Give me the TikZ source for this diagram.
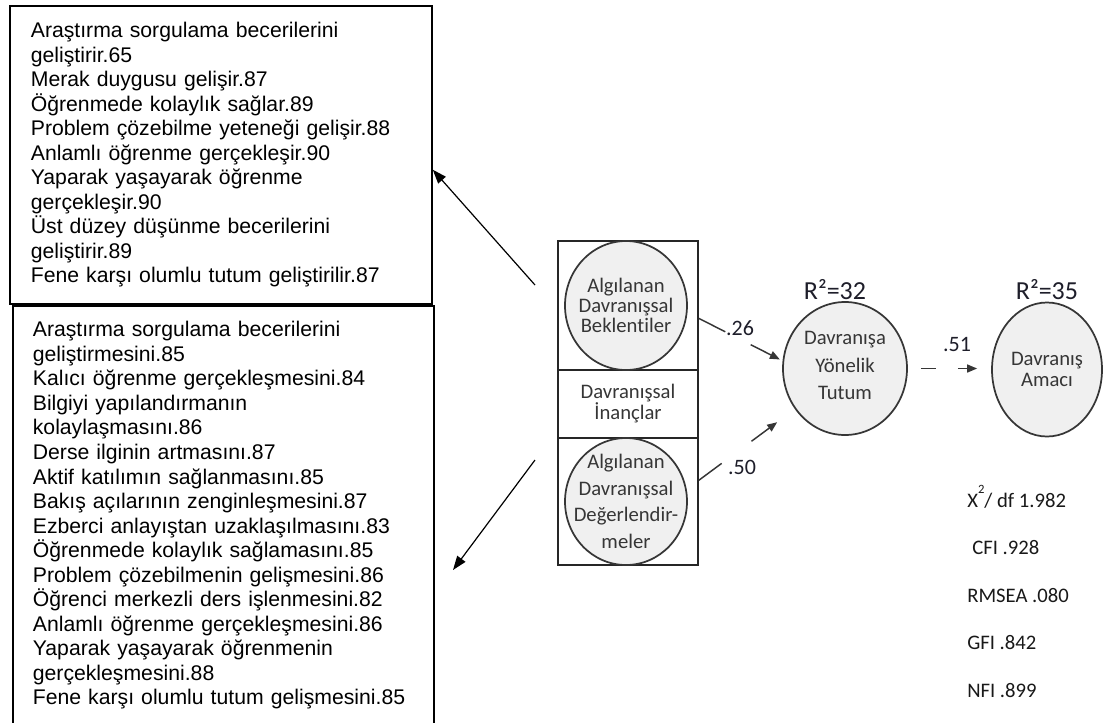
\documentclass[tikz,border=0pt]{standalone}
\usepackage{fontspec}
\setmainfont{Liberation Sans}
\newfontfamily\calfont[Ligatures={NoCommon}]{Carlito}
\usetikzlibrary{shapes.geometric,arrows.meta}

\definecolor{ink}{HTML}{363636}
\definecolor{nodefill}{HTML}{F0F0F0}
\definecolor{lblink}{HTML}{1E1E2A}

\tikzset{
  listbox/.style={draw=black, line width=1.3pt, anchor=north west, align=left,
    inner ysep=0pt, font=\fontsize{15.9pt}{18.4pt}\selectfont},
  latent/.style={ellipse, draw=ink, line width=1.3pt, fill=nodefill, inner sep=0pt},
  intext/.style={align=center, text=ink, inner sep=0pt,
    font=\calfont\fontsize{15.5pt}{#1}\selectfont},
  panelbox/.style={draw=black!85, line width=1.3pt, inner sep=0pt},
  semarrow/.style={draw=ink, line width=1.1pt, -{Triangle[length=7.5pt,width=6pt]}},
  boxarrow/.style={draw=black, line width=0.9pt, -{Triangle[length=10.5pt,width=7.5pt]}},
  coef/.style={text=lblink, inner sep=0pt, font=\calfont\fontsize{16.5pt}{18pt}\selectfont},
  rsq/.style={text=lblink, inner sep=0pt, font=\calfont\fontsize{19.5pt}{21pt}\selectfont},
  fitstats/.style={align=left, inner sep=0pt, text=black!90,
    font=\calfont\fontsize{15.5pt}{35.6pt}\selectfont}
}

\begin{document}
\begin{tikzpicture}[x=0.75pt,y=-0.75pt]
\useasboundingbox (0,0) rectangle (1103,722);
\clip (0,0) rectangle (1103,722);

% list of expected outcomes (upper box)
\node[listbox, minimum width=316.5pt, minimum height=223.5pt, inner xsep=15.75pt,
      text width=285pt] (topbox) at (9,5)
{Araştırma sorgulama becerilerini\\
geliştirir.65\\
Merak duygusu gelişir.87\\
Öğrenmede kolaylık sağlar.89\\
Problem çözebilme yeteneği gelişir.88\\
Anlamlı öğrenme gerçekleşir.90\\
Yaparak yaşayarak öğrenme\\
gerçekleşir.90\\
Üst düzey düşünme becerilerini\\
geliştirir.89\\
Fene karşı olumlu tutum geliştirilir.87};

% list of evaluations (lower box, runs past the page bottom)
\node[listbox, minimum width=315.75pt, minimum height=314.25pt, inner xsep=15pt,
      text width=285.75pt] (botbox) at (12,305)
{Araştırma sorgulama becerilerini\\
geliştirmesini.85\\
Kalıcı öğrenme gerçekleşmesini.84\\
Bilgiyi yapılandırmanın\\
kolaylaşmasını.86\\
Derse ilginin artmasını.87\\
Aktif katılımın sağlanmasını.85\\
Bakış açılarının zenginleşmesini.87\\
Ezberci anlayıştan uzaklaşılmasını.83\\
Öğrenmede kolaylık sağlamasını.85\\
Problem çözebilmenin gelişmesini.86\\
Öğrenci merkezli ders işlenmesini.82\\
Anlamlı öğrenme gerçekleşmesini.86\\
Yaparak yaşayarak öğrenmenin\\
gerçekleşmesini.88\\
Fene karşı olumlu tutum gelişmesini.85};

% behavioural beliefs panel
\node[panelbox, minimum width=105pt, minimum height=243pt] (panel) at (628,403) {};
\node[panelbox, minimum width=105pt, minimum height=51pt, align=center, text=ink,
      font=\calfont\fontsize{15.5pt}{15.75pt}\selectfont] (inanc) at (628,404)
{Davranışsal\\İnançlar};

\node[latent, minimum width=91.5pt, minimum height=96.75pt,
      label={[intext=15pt]center:Algılanan\\Davranışsal\\Beklentiler}] (bel) at (626,305.5) {};
\node[latent, minimum width=91.5pt, minimum height=95.25pt,
      label={[intext=19.9pt]center:Algılanan\\Davranışsal\\Değerlendir-\\meler}] (deg) at (626,501.5) {};

% outcome constructs
\node[latent, minimum width=93pt, minimum height=99.75pt,
      label={[intext=20.6pt, yshift=2.2pt]center:Davranışa\\Yönelik\\Tutum}] (tutum) at (845,368.5) {};
\node[latent, minimum width=82.5pt, minimum height=100.5pt,
      label={[intext=16.3pt]center:Davranış\\Amacı}] (amac) at (1047,369.5) {};

\node[rsq] (r32) at (835,290) {R²=32};
\node[rsq] (r35) at (1047,290) {R²=35};

% structural paths
\draw[semarrow, dash pattern=on 22.2pt off 21.4pt on 100pt, shorten >=2.25pt]
  (panel.east |- bel.-12) -- (tutum.173);
\draw[semarrow, dash pattern=on 21.3pt off 27.8pt on 100pt, shorten >=16.5pt]
  (panel.east |- deg.20) -- (tutum.219);
\draw[semarrow, dash pattern=on 11.25pt off 16.5pt on 40pt,
      shorten <=9.75pt, shorten >=10.5pt]
  (tutum.east) -- (tutum.east -| amac.west);

\node[coef] (c26) at (740,328) {.26};
\node[coef] (c50) at (742,467) {.50};
\node[coef] (c51) at (957,344) {.51};

% pointers to the two lists
\coordinate (u1) at (535,285);
\coordinate (l1) at (535,460);
\coordinate (l2) at (453,570);
\draw[boxarrow] (u1) -- (topbox.-4.9);
\draw[boxarrow] (l1) -- (l2);

% fit indices (node baseline is that of the last line)
\node[fitstats, anchor=base west] (fit) at (967,697)
{X\raisebox{10.5pt}{\fontsize{9.5pt}{10pt}\selectfont 2}/ df 1.982\\
\hspace{3.75pt}CFI .928\\
RMSEA .080\\
GFI .842\\
NFI .899};
\end{tikzpicture}
\end{document}
